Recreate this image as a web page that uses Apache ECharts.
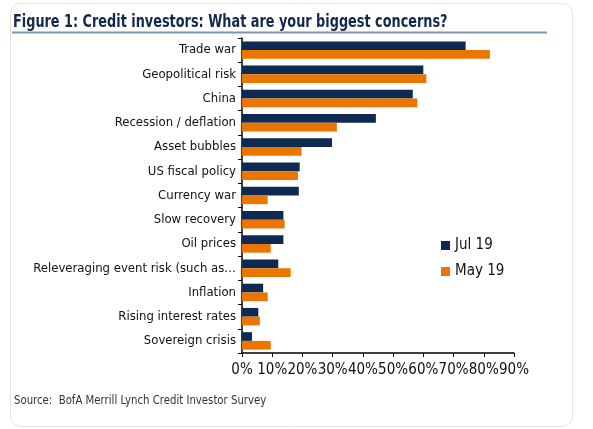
<!DOCTYPE html>
<html>
<head>
<meta charset="utf-8">
<script src="https://cdn.jsdelivr.net/npm/echarts@6/dist/echarts.min.js"></script>
<style>
html,body{margin:0;padding:0;background:#fff;}
#chart{width:593px;height:429px;}
</style>
</head>
<body>
<div id="chart"></div>
<script>
const categories = ["Trade war","Geopolitical risk","China","Recession / deflation","Asset bubbles","US fiscal policy","Currency war","Slow recovery","Oil prices","Releveraging event risk (such as\u2026","Inflation","Rising interest rates","Sovereign crisis"];
const jul19 = [74, 60, 56.5, 44.3, 29.8, 19.1, 18.8, 13.7, 13.7, 12, 7, 5.4, 3.3];
const may19 = [82, 61, 58, 31.4, 19.7, 18.5, 8.5, 14.1, 9.5, 16.1, 8.5, 5.9, 9.5];
const xTicks = [0,10,20,30,40,50,60,70,80,90];

const chart = echarts.init(document.getElementById('chart'), null, {renderer:'canvas'});
const narrow = '"DejaVu Sans Condensed", "Liberation Sans Narrow", sans-serif';
chart.setOption({
  animation:false,
  backgroundColor:'#fff',
  graphic:[
    {type:'rect', shape:{x:10.5,y:3.5,width:562,height:423,r:10}, style:{fill:'none',stroke:'#e3e3e3',lineWidth:1}, z:-1},
    {type:'text', x:13, y:13, scaleX:0.84, scaleY:1.05, style:{text:'Figure 1: Credit investors: What are your biggest concerns?', font:'bold 17px "DejaVu Sans Condensed", sans-serif', fill:'#13294b'}},
    {type:'line', shape:{x1:12,y1:32.5,x2:547,y2:32.5}, style:{stroke:'#7f93aa',lineWidth:2}},
    {type:'text', x:14, y:395, scaleX:0.94, style:{text:'Source:  BofA Merrill Lynch Credit Investor Survey', font:'12px "DejaVu Sans Condensed", sans-serif', fill:'#333'}}
  ],
  legend:{
    orient:'vertical', left:436, top:233, itemWidth:9, itemHeight:9, itemGap:11, icon:'rect',
    textStyle:{fontFamily:narrow, fontSize:15, color:'#111'},
    data:['Jul 19','May 19']
  },
  grid:{left:242, right:79, top:38, bottom:76, containLabel:false},
  xAxis:{
    type:'value', min:0, max:90, interval:10,
    axisLine:{show:true, lineStyle:{color:'#000', width:1.5}},
    axisTick:{show:true, length:4, lineStyle:{color:'#000'}},
    splitLine:{show:false},
    axisLabel:{formatter:v=> xTicks.includes(v) ? v+'%' : '', fontFamily:narrow, fontSize:15, color:'#111', margin:10, showMaxLabel:true, showMinLabel:true, hideOverlap:false}
  },
  yAxis:{
    type:'category', inverse:true, data:categories,
    axisLine:{show:true, lineStyle:{color:'#000', width:1.5}},
    axisTick:{show:true, length:4, lineStyle:{color:'#000'}},
    axisLabel:{fontFamily:narrow, fontSize:13, color:'#111', margin:6}
  },
  series:[
    {name:'Jul 19', type:'bar', data:jul19, itemStyle:{color:'#0e2a52'}, barGap:'0%', barCategoryGap:'28%'},
    {name:'May 19', type:'bar', data:may19, itemStyle:{color:'#ea7600'}, barGap:'0%', barCategoryGap:'28%'}
  ]
});
</script>
</body>
</html>
